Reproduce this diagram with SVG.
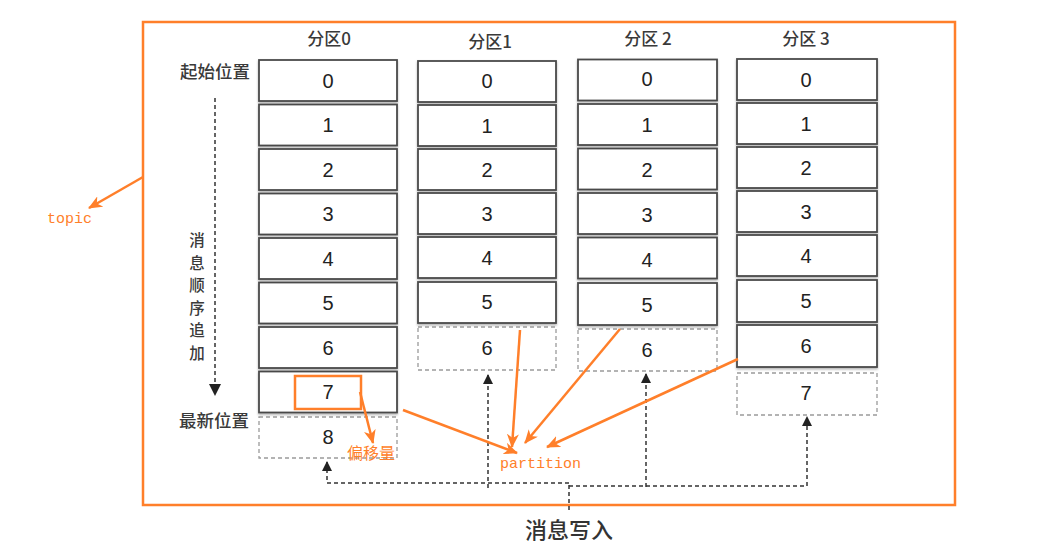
<svg xmlns="http://www.w3.org/2000/svg" width="1061" height="551" viewBox="0 0 1061 551">
<defs>
<style>
.cell{fill:#fff;stroke:#4a4a4a;stroke-width:1.8;filter:url(#sh)}
.dcell{fill:#fff;stroke:#9a9a9a;stroke-width:1.3;stroke-dasharray:4 3}
.num{font-family:"Liberation Sans",Arial,sans-serif;font-size:20px;fill:#222;text-anchor:middle}
.hdr{font-family:"Noto Sans CJK SC",sans-serif;font-size:17px;fill:#3a3a3a;text-anchor:middle;font-weight:500}
.lbl{font-family:"Noto Sans CJK SC",sans-serif;font-size:17.5px;fill:#3a3a3a;text-anchor:middle;font-weight:500}
.vt{font-family:"Noto Sans CJK SC",sans-serif;font-size:15.5px;fill:#3a3a3a;text-anchor:middle;font-weight:500}
.or{stroke:#FF7F2A;stroke-width:2.5;fill:none}
.ortxt{font-family:"Liberation Mono","DejaVu Sans Mono",monospace;font-size:15px;fill:#FF7F2A}
.dash{stroke:#333;stroke-width:1.5;stroke-dasharray:4 3;fill:none}
</style>
<filter id="sh" x="-10%" y="-10%" width="120%" height="130%"><feDropShadow dx="0" dy="1.5" stdDeviation="1" flood-color="#000" flood-opacity="0.3"/></filter>
<marker id="oa" markerWidth="14" markerHeight="12" refX="13" refY="6" orient="auto" markerUnits="userSpaceOnUse"><path d="M0,0 L14,6 L0,12 L4,6 Z" fill="#FF7F2A"/></marker>
<marker id="ga" markerWidth="10" markerHeight="10" refX="9" refY="5" orient="auto" markerUnits="userSpaceOnUse"><path d="M0,0 L10,5 L0,10 Z" fill="#222"/></marker>
</defs>
<rect width="1061" height="551" fill="#fff"/>
<rect id="topic-border" x="143" y="22" width="812" height="483" fill="none" stroke="#FF7F2A" stroke-width="2.5"/>

<g id="labels">
<text class="hdr" x="329" y="45">分区0</text>
<text class="hdr" x="490" y="48">分区1</text>
<text class="hdr" x="648" y="45">分区 2</text>
<text class="hdr" x="806" y="45">分区 3</text>
<text class="lbl" x="215" y="78">起始位置</text>
<text class="lbl" x="214" y="427">最新位置</text>
<text class="vt" x="197" y="246">消</text>
<text class="vt" x="197" y="268.5">息</text>
<text class="vt" x="197" y="291">顺</text>
<text class="vt" x="197" y="313.5">序</text>
<text class="vt" x="197" y="336">追</text>
<text class="vt" x="197" y="358.5">加</text>
<text x="569" y="538" font-family="'Noto Sans CJK SC',sans-serif" font-size="22" fill="#333" text-anchor="middle" font-weight="500">消息写入</text>
</g>

<g id="partition0">
<rect class="cell" x="259" y="60" width="138" height="41"/><text class="num" x="328" y="88">0</text>
<rect class="cell" x="259" y="104.5" width="138" height="41"/><text class="num" x="328" y="132">1</text>
<rect class="cell" x="259" y="149" width="138" height="41"/><text class="num" x="328" y="177">2</text>
<rect class="cell" x="259" y="193.5" width="138" height="41"/><text class="num" x="328" y="221">3</text>
<rect class="cell" x="259" y="238" width="138" height="41"/><text class="num" x="328" y="266">4</text>
<rect class="cell" x="259" y="282.5" width="138" height="41"/><text class="num" x="328" y="310">5</text>
<rect class="cell" x="259" y="327" width="138" height="41"/><text class="num" x="328" y="355">6</text>
<rect class="cell" x="259" y="371.5" width="138" height="41"/><text class="num" x="328" y="399">7</text>
<rect class="dcell" x="259" y="417" width="138" height="41"/><text class="num" x="328" y="444">8</text>
</g>

<g id="partition1">
<rect class="cell" x="418" y="61" width="138" height="41"/><text class="num" x="487" y="88">0</text>
<rect class="cell" x="418" y="105" width="138" height="41"/><text class="num" x="487" y="133">1</text>
<rect class="cell" x="418" y="149" width="138" height="41"/><text class="num" x="487" y="177">2</text>
<rect class="cell" x="418" y="193" width="138" height="41"/><text class="num" x="487" y="221">3</text>
<rect class="cell" x="418" y="237" width="138" height="41"/><text class="num" x="487" y="265">4</text>
<rect class="cell" x="418" y="282" width="138" height="41"/><text class="num" x="487" y="309">5</text>
<rect class="dcell" x="418" y="327" width="138" height="43"/><text class="num" x="487" y="355">6</text>
</g>

<g id="partition2">
<rect class="cell" x="578" y="59.5" width="139" height="41"/><text class="num" x="647" y="86">0</text>
<rect class="cell" x="578" y="104" width="139" height="41"/><text class="num" x="647" y="132">1</text>
<rect class="cell" x="578" y="148.5" width="139" height="41"/><text class="num" x="647" y="177">2</text>
<rect class="cell" x="578" y="193" width="139" height="41"/><text class="num" x="647" y="222">3</text>
<rect class="cell" x="578" y="237.5" width="139" height="41"/><text class="num" x="647" y="267">4</text>
<rect class="cell" x="578" y="283" width="139" height="42"/><text class="num" x="647" y="312">5</text>
<rect class="dcell" x="578" y="329" width="139" height="42"/><text class="num" x="647" y="357">6</text>
</g>

<g id="partition3">
<rect class="cell" x="737" y="59" width="140" height="41"/><text class="num" x="806" y="87">0</text>
<rect class="cell" x="737" y="103" width="140" height="41"/><text class="num" x="806" y="131">1</text>
<rect class="cell" x="737" y="147" width="140" height="41"/><text class="num" x="806" y="175">2</text>
<rect class="cell" x="737" y="191" width="140" height="41"/><text class="num" x="806" y="219">3</text>
<rect class="cell" x="737" y="235" width="140" height="41"/><text class="num" x="806" y="263">4</text>
<rect class="cell" x="737" y="280" width="140" height="42"/><text class="num" x="806" y="308">5</text>
<rect class="cell" x="737" y="325" width="140" height="42"/><text class="num" x="806" y="353">6</text>
<rect class="dcell" x="737" y="373" width="140" height="42"/><text class="num" x="806" y="400">7</text>
</g>

<g id="connectors">
<line class="dash" x1="215" y1="98" x2="215" y2="386"/>
<path d="M209,384 L221,384 L215,396 Z" fill="#222"/>
<line class="dash" x1="569" y1="510" x2="569" y2="483"/>
<polyline class="dash" points="569,483 327,483 327,462" marker-end="url(#ga)"/>
<polyline class="dash" points="488,488 488,375" marker-end="url(#ga)"/>
<polyline class="dash" points="646,487 646,374" marker-end="url(#ga)"/>
<polyline class="dash" points="569,486 807,486 807,417" marker-end="url(#ga)"/>
<line class="or" x1="143" y1="177" x2="89" y2="208" marker-end="url(#oa)"/>
<line class="or" x1="360" y1="392" x2="373" y2="443" marker-end="url(#oa)"/>
<line class="or" x1="403" y1="410" x2="517" y2="453" marker-end="url(#oa)"/>
<line class="or" x1="520" y1="330" x2="512" y2="447" marker-end="url(#oa)"/>
<line class="or" x1="620" y1="329" x2="525" y2="443" marker-end="url(#oa)"/>
<line class="or" x1="738" y1="359" x2="547" y2="447" marker-end="url(#oa)"/>
</g>

<g id="annotations">
<rect id="offset-box" x="295" y="376" width="66" height="33" fill="none" stroke="#FF7F2A" stroke-width="2.5"/>
<text class="ortxt" x="47" y="223">topic</text>
<text class="ortxt" x="500" y="468">partition</text>
<text x="347" y="459" font-family="'Noto Sans CJK SC',sans-serif" font-size="16" fill="#FF7F2A">偏移量</text>
</g>
</svg>
